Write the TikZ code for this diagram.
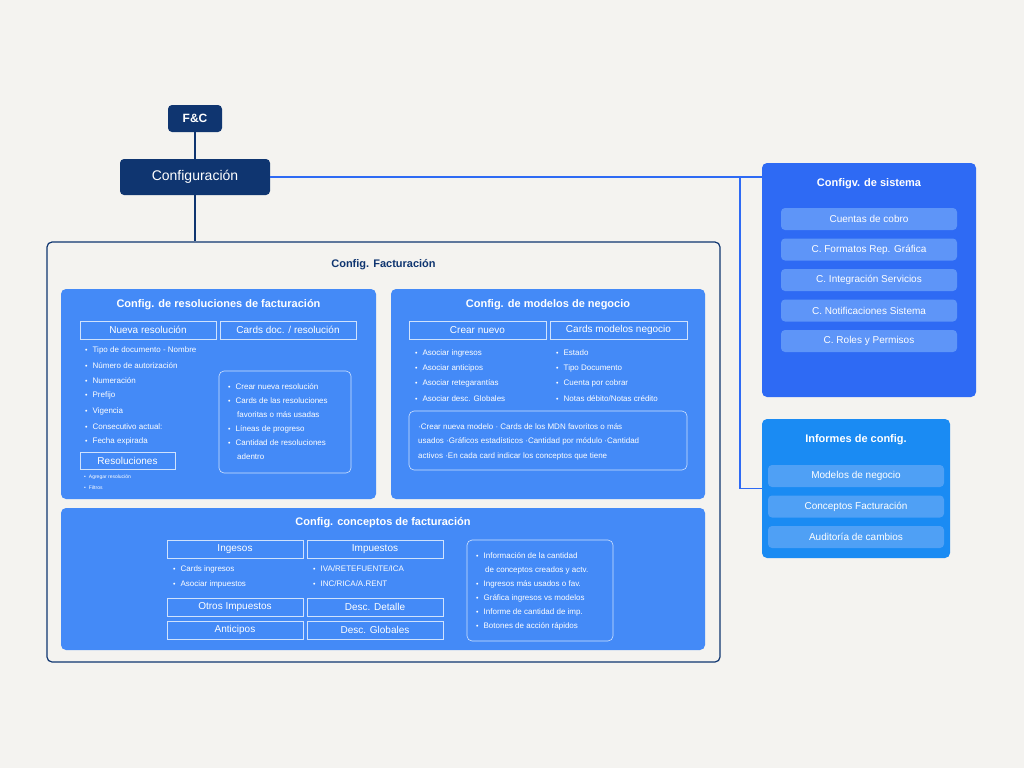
\documentclass[tikz,border=0pt]{standalone}
\usepackage{fontspec}
\setmainfont{Liberation Sans}
\usetikzlibrary{positioning}
\definecolor{bgcol}{HTML}{F4F3F0}
\definecolor{navy}{HTML}{0F3570}
\definecolor{cardblue}{HTML}{448AF7}
\definecolor{sysblue}{HTML}{2E6AF4}
\definecolor{infblue}{HTML}{1A8BF3}
\definecolor{pillblue}{HTML}{5E95F8}
\definecolor{pillinf}{HTML}{4FA0F5}
\newcommand{\bul}{{\scriptsize\textbullet}\hspace{5pt}}
\tikzset{
  navybox/.style={fill=navy,rounded corners=4pt,text=white,inner sep=0pt},
  card/.style={fill=cardblue,rounded corners=5pt},
  head/.style={draw=white!75!cardblue,line width=0.6pt,text=white,font=\fontsize{10}{12}\selectfont},
  ttl/.style={text=white,font=\fontsize{11}{13}\selectfont\bfseries},
  itm/.style={text=white,anchor=west,inner sep=0pt,font=\fontsize{8}{10}\selectfont},
  frame/.style={draw=white!75!cardblue,line width=0.6pt,rounded corners=5pt},
  pill/.style={fill=pillblue,rounded corners=4pt,text=white,font=\fontsize{10}{12}\selectfont},
  link/.style={draw=#1,line width=1.2pt},
}
\begin{document}
\begin{tikzpicture}[x=1pt,y=-1pt]
\fill[bgcol] (0,0) rectangle (1024,768);
\useasboundingbox (0,0) rectangle (1024,768);

% top nodes
\node[navybox,minimum width=54pt,minimum height=27pt,font=\fontsize{12}{14}\selectfont\bfseries] (fc) at (195,118.5) {F\&C};
\node[navybox,minimum width=150pt,minimum height=36pt,font=\fontsize{14}{16}\selectfont] (conf) at (195,177) {Configuración};

% right boxes
\node[fill=sysblue,rounded corners=5pt,minimum width=214pt,minimum height=234pt] (sys) at (869,280) {};
\node[ttl] at (869,184) {Configv. de sistema};
\foreach \t [count=\i] in {Cuentas de cobro,C. Formatos Rep. Gráfica,C. Integración Servicios,C. Notificaciones Sistema,C. Roles y Permisos}
  \node[pill,minimum width=176pt,minimum height=22pt] at (869,{219+30.5*(\i-1)}) {\t};
\node[fill=infblue,rounded corners=5pt,minimum width=188pt,minimum height=139pt] (inf) at (856,488.5) {};
\node[ttl] at (856,440) {Informes de config.};
\foreach \t [count=\i] in {Modelos de negocio,Conceptos Facturación,Auditoría de cambios}
  \node[pill,fill=pillinf,minimum width=176pt,minimum height=22pt] at (856,{476+30.5*(\i-1)}) {\t};

% outer frame
\node[draw=navy,line width=1.2pt,rounded corners=5pt,minimum width=673pt,minimum height=420pt] (fact) at (383.5,452) {};
\node[text=navy,font=\fontsize{11}{13}\selectfont\bfseries] at (383.5,265) {Config. Facturación};

% connectors
\coordinate (j) at (740,177);
\draw[link=navy] (fc) -- (conf);
\draw[link=navy] (conf) -- (fact.north -| conf);
\draw[link=sysblue] (conf) -- (sys.west |- conf);
\draw[link=sysblue] (j) |- (inf.west);

% card A
\node[card,minimum width=315pt,minimum height=210pt] (resol) at (218.5,394) {};
\node[ttl] at (218.5,305) {Config. de resoluciones de facturación};
\node[head,minimum width=136pt,minimum height=18pt] at (148,330) {Nueva resolución};
\node[head,minimum width=136pt,minimum height=18pt] at (288,330) {Cards doc. / resolución};
\foreach \t [count=\i] in {Tipo de documento - Nombre,Número de autorización,Numeración,Prefijo,Vigencia,Consecutivo actual:,Fecha expirada}
  \node[itm] at (85,{350+15.3*(\i-1)}) {\bul\t};
\node[head,minimum width=95pt,minimum height=17pt] at (127.5,460.5) {Resoluciones};
\node[itm,font=\fontsize{5}{6}\selectfont] at (84,477) {\textbullet\hspace{3pt}Agregar resolución};
\node[itm,font=\fontsize{5}{6}\selectfont] at (84,488) {\textbullet\hspace{3pt}Filtros};
\draw[frame] (219,371) rectangle (351,473);
\node[itm] at (228,387) {\bul Crear nueva resolución};
\node[itm] at (228,401) {\bul Cards de las resoluciones};
\node[itm] at (237,415) {favoritas o más usadas};
\node[itm] at (228,429) {\bul Líneas de progreso};
\node[itm] at (228,443) {\bul Cantidad de resoluciones};
\node[itm] at (237,457) {adentro};

% card B
\node[card,minimum width=314pt,minimum height=210pt] (model) at (548,394) {};
\node[ttl] at (548,305) {Config. de modelos de negocio};
\node[head,minimum width=137pt,minimum height=18pt] at (477.5,330) {Crear nuevo};
\node[head,minimum width=137pt,minimum height=18pt] at (618.5,330) {Cards modelos negocio};
\foreach \t [count=\i] in {Asociar ingresos,Asociar anticipos,Asociar retegarantías,Asociar desc. Globales}
  \node[itm] at (415,{353+15.3*(\i-1)}) {\bul\t};
\foreach \t [count=\i] in {Estado,Tipo Documento,Cuenta por cobrar,Notas débito/Notas crédito}
  \node[itm] at (556,{353+15.3*(\i-1)}) {\bul\t};
\draw[frame] (409,411) rectangle (687,470);
\node[itm] at (418,427) {·Crear nueva modelo · Cards de los MDN favoritos o más};
\node[itm] at (418,441) {usados ·Gráficos estadísticos ·Cantidad por módulo ·Cantidad};
\node[itm] at (418,456) {activos ·En cada card indicar los conceptos que tiene};

% card C
\node[card,minimum width=644pt,minimum height=142pt] (conc) at (383,579) {};
\node[ttl] at (383,523) {Config. conceptos de facturación};
\foreach \t/\x/\y in {Ingesos/235/549,Impuestos/375/549,Otros Impuestos/235/607,Desc. Detalle/375/607,Anticipos/235/630,Desc. Globales/375/630}
  \node[head,minimum width=136pt,minimum height=18pt] at (\x,\y) {\t};
\node[itm] at (173,569) {\bul Cards ingresos};
\node[itm] at (173,584) {\bul Asociar impuestos};
\node[itm] at (313,569) {\bul IVA/RETEFUENTE/ICA};
\node[itm] at (313,584) {\bul INC/RICA/A.RENT};
\draw[frame] (467,540) rectangle (613,641);
\node[itm] at (476,556) {\bul Información de la cantidad};
\node[itm] at (485,570) {de conceptos creados y actv.};
\node[itm] at (476,584) {\bul Ingresos más usados o fav.};
\node[itm] at (476,598) {\bul Gráfica ingresos vs modelos};
\node[itm] at (476,612) {\bul Informe de cantidad de imp.};
\node[itm] at (476,626) {\bul Botones de acción rápidos};
\end{tikzpicture}
\end{document}
